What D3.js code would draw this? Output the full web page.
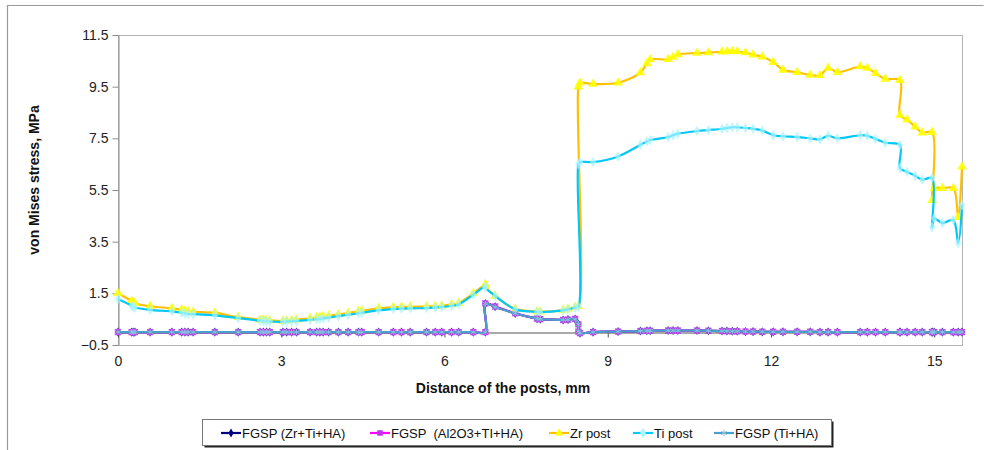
<!DOCTYPE html>
<html>
<head>
<meta charset="utf-8">
<script src="https://cdn.jsdelivr.net/npm/d3@7"></script>
<style>
  body { margin: 0; background: #fff; }
  text { font-family: "Liberation Sans", Arial, sans-serif; }
</style>
</head>
<body>
<script>
// Width and height
var w = 994;
var h = 450;

// Data: distance along the posts (mm), shared by every series
var distance = [
  0.00, 0.25, 0.28, 0.31, 0.59, 0.99, 1.17, 1.23, 1.29, 1.38,
  1.78, 2.21, 2.61, 2.67, 2.73, 2.79, 3.03, 3.10, 3.19, 3.28,
  3.53, 3.65, 3.71, 3.77, 3.87, 4.05, 4.23, 4.42, 4.48, 4.79,
  5.06, 5.21, 5.37, 5.67, 5.83, 5.95, 6.13, 6.26, 6.53, 6.75,
  6.75, 6.93, 7.30, 7.70, 7.76, 8.18, 8.27, 8.40, 8.46, 8.46,
  8.49, 8.73, 9.19, 9.60, 9.72, 9.78, 10.11, 10.20, 10.29, 10.64,
  10.85, 11.10, 11.19, 11.29, 11.38, 11.53, 11.67, 11.84, 12.04, 12.22,
  12.48, 12.72, 12.90, 13.05, 13.22, 13.64, 13.77, 13.92, 14.10, 14.37,
  14.37, 14.50, 14.65, 14.78, 14.96, 14.96, 15.00, 15.15, 15.35, 15.44, 15.51
];

// von Mises stress, MPa
var zrPost = [
  1.50, 1.20, 1.16, 1.12, 1.00, 0.92, 0.86, 0.82, 0.80, 0.78,
  0.74, 0.58, 0.48, 0.47, 0.46, 0.45, 0.43, 0.44, 0.46, 0.48,
  0.53, 0.56, 0.58, 0.60, 0.63, 0.68, 0.74, 0.80, 0.82, 0.92,
  0.96, 0.97, 0.98, 0.99, 1.00, 1.02, 1.07, 1.12, 1.50, 1.85,
  1.80, 1.40, 0.90, 0.80, 0.79, 0.85, 0.90, 0.97, 1.00, 9.50,
  9.65, 9.60, 9.65, 10.05, 10.40, 10.55, 10.56, 10.65, 10.75, 10.80,
  10.82, 10.85, 10.86, 10.87, 10.86, 10.82, 10.74, 10.66, 10.45, 10.15,
  10.06, 9.95, 9.94, 10.22, 10.06, 10.28, 10.22, 10.02, 9.80, 9.75,
  8.40, 8.22, 7.95, 7.72, 7.74, 5.10, 5.57, 5.57, 5.57, 4.45, 6.40
];

var tiPost = [
  1.28, 1.02, 0.98, 0.95, 0.86, 0.80, 0.75, 0.72, 0.70, 0.69,
  0.65, 0.54, 0.44, 0.43, 0.42, 0.41, 0.40, 0.41, 0.42, 0.43,
  0.47, 0.50, 0.51, 0.53, 0.56, 0.62, 0.67, 0.73, 0.75, 0.84,
  0.89, 0.91, 0.92, 0.93, 0.95, 0.97, 1.02, 1.07, 1.45, 1.78,
  1.72, 1.40, 0.88, 0.78, 0.77, 0.84, 0.88, 0.95, 0.98, 6.50,
  6.58, 6.58, 6.80, 7.25, 7.38, 7.43, 7.55, 7.62, 7.68, 7.78,
  7.82, 7.87, 7.90, 7.93, 7.93, 7.90, 7.87, 7.80, 7.62, 7.58,
  7.55, 7.50, 7.46, 7.60, 7.50, 7.62, 7.60, 7.48, 7.33, 7.24,
  6.35, 6.20, 6.05, 5.90, 5.96, 4.06, 4.40, 4.22, 4.34, 3.45, 4.92
];

var fgspZrTiHa = [
  0, 0, 0, 0, 0, 0, 0, 0, 0, 0,
  0, 0, 0, 0, 0, 0, 0, 0, 0, 0,
  0, 0, 0, 0, 0, 0, 0, 0, 0, 0,
  0, 0, 0, 0, 0, 0, 0, 0, 0, 0,
  1.10, 0.98, 0.72, 0.52, 0.50, 0.47, 0.48, 0.50, 0.30, 0.02,
  -0.04, 0.00, 0.02, 0.04, 0.05, 0.05, 0.06, 0.06, 0.06, 0.06,
  0.05, 0.04, 0.04, 0.03, 0.03, 0.02, 0.02, 0.01, 0.01, 0.01,
  0.01, 0.01, 0, 0, 0, 0, 0, 0, 0, 0,
  0, 0, 0, 0, 0, 0, 0, 0, 0, 0, 0
];

var fgspAlTiHa = [
  0, 0, 0, 0, 0, 0, 0, 0, 0, 0,
  0, 0, 0, 0, 0, 0, 0, 0, 0, 0,
  0, 0, 0, 0, 0, 0, 0, 0, 0, 0,
  0, 0, 0, 0, 0, 0, 0, 0, 0, 0,
  1.11, 0.99, 0.73, 0.52, 0.50, 0.47, 0.48, 0.51, 0.30, 0.02,
  -0.04, 0.00, 0.02, 0.04, 0.05, 0.05, 0.06, 0.06, 0.06, 0.06,
  0.05, 0.04, 0.04, 0.03, 0.03, 0.02, 0.02, 0.01, 0.01, 0.01,
  0.01, 0.01, 0, 0, 0, 0, 0, 0, 0, 0,
  0, 0, 0, 0, 0, 0, 0, 0, 0, 0, 0
];

var fgspTiHa = [
  0, 0, 0, 0, 0, 0, 0, 0, 0, 0,
  0, 0, 0, 0, 0, 0, 0, 0, 0, 0,
  0, 0, 0, 0, 0, 0, 0, 0, 0, 0,
  0, 0, 0, 0, 0, 0, 0, 0, 0, 0,
  1.10, 0.97, 0.72, 0.52, 0.50, 0.47, 0.48, 0.50, 0.30, 0.02,
  -0.04, 0.00, 0.02, 0.04, 0.05, 0.05, 0.06, 0.06, 0.06, 0.06,
  0.05, 0.04, 0.04, 0.03, 0.03, 0.02, 0.02, 0.01, 0.01, 0.01,
  0.01, 0.01, 0, 0, 0, 0, 0, 0, 0, 0,
  0, 0, 0, 0, 0, 0, 0, 0, 0, 0, 0
];

// Tick labels
var xTicks = [0, 3, 6, 9, 12, 15];
var yTicks = [-0.5, 1.5, 3.5, 5.5, 7.5, 9.5, 11.5];

// Series in drawing order (Excel draws the first series at the bottom)
var series = [
  { name: "FGSP (Zr+Ti+HA)",       values: fgspZrTiHa, line: "#000080", mark: "#000080", sym: d3.symbolDiamond,  size: 24 },
  { name: "FGSP  (Al2O3+TI+HA)",   values: fgspAlTiHa, line: "#ff00ff", mark: "#c030f0", sym: d3.symbolSquare,   size: 40 },
  { name: "Zr post",               values: zrPost,     line: "#ffc000", mark: "#ffff00", sym: d3.symbolTriangle, size: 40 },
  { name: "Ti post",               values: tiPost,     line: "#00c8f8", mark: "#a8f4ff", sym: d3.symbolDiamond,  size: 34 },
  { name: "FGSP (Ti+HA)",          values: fgspTiHa,   line: "#4a9fcb", mark: "#8fc0e0", sym: d3.symbolAsterisk, size: 30 }
];

// Plot area
var pLeft = 118, pRight = 962, pTop = 35, pBottom = 345;

var x = d3.scaleLinear().domain([0, 15.51]).range([pLeft, pRight]);
var y = d3.scaleLinear().domain([-0.5, 11.5]).range([pBottom, pTop]);

// Create SVG element
var svg = d3.select("body")
            .append("svg")
            .attr("width", w)
            .attr("height", h);

// Outer chart frame (only top and left edges show in the picture)
svg.append("path")
   .attr("d", "M7.5,450 V5.5 H983.5")
   .attr("fill", "none")
   .attr("stroke", "#9a9a9a")
   .attr("stroke-width", 1.2);

// Plot area border
svg.append("rect")
   .attr("x", pLeft + 0.5)
   .attr("y", pTop + 0.5)
   .attr("width", pRight - pLeft)
   .attr("height", pBottom - pTop)
   .attr("fill", "none")
   .attr("stroke", "#b4b4b4")
   .attr("stroke-width", 1);

// Y axis
var yAxis = d3.axisLeft(y).tickValues(yTicks).tickSize(6).tickSizeOuter(0)
              .tickFormat(d3.format(".1f"));
var gy = svg.append("g")
            .attr("transform", "translate(" + (pLeft + 0.5) + ",0)")
            .call(yAxis);
gy.select(".domain").attr("stroke", "#8c8c8c");
gy.selectAll(".tick line").attr("stroke", "#8c8c8c");
gy.selectAll(".tick text")
  .attr("x", -10)
  .attr("font-size", "14px")
  .attr("fill", "#222")
  .attr("font-family", "'Liberation Sans', Arial, sans-serif");

// X axis crosses at zero, labels sit below the plot area
var zeroY = Math.round(y(0)) + 0.5;
var xAxis = d3.axisBottom(x).tickValues(xTicks).tickSize(5).tickSizeOuter(0)
              .tickFormat(d3.format("d"));
var gx = svg.append("g")
            .attr("transform", "translate(0," + zeroY + ")")
            .call(xAxis);
gx.select(".domain").attr("stroke", "#555");
gx.selectAll(".tick line").attr("stroke", "#555");
gx.selectAll(".tick text")
  .attr("y", 356 - zeroY)
  .attr("dy", "0.71em")
  .attr("font-size", "14px")
  .attr("fill", "#222")
  .attr("font-family", "'Liberation Sans', Arial, sans-serif");

// Axis titles
svg.append("text")
   .text("von Mises stress, MPa")
   .attr("transform", "translate(39,180) rotate(-90)")
   .attr("text-anchor", "middle")
   .attr("font-size", "14px")
   .attr("font-weight", "bold")
   .attr("fill", "#111");

svg.append("text")
   .text("Distance of the posts, mm")
   .attr("x", 503)
   .attr("y", 393)
   .attr("text-anchor", "middle")
   .attr("font-size", "14px")
   .attr("font-weight", "bold")
   .attr("fill", "#111");

// Lines and markers
var line = d3.line()
             .x(function(d) { return x(d[0]); })
             .y(function(d) { return y(d[1]); })
             .curve(d3.curveCatmullRom.alpha(0.5));

series.forEach(function(s) {
  var pts = distance.map(function(d, i) { return [d, s.values[i]]; });
  var g = svg.append("g");
  g.append("path")
   .datum(pts)
   .attr("d", line)
   .attr("fill", "none")
   .attr("stroke", s.line)
   .attr("stroke-width", 2.2);
  g.selectAll("path.mk")
   .data(pts)
   .enter()
   .append("path")
   .attr("class", "mk")
   .attr("d", d3.symbol().type(s.sym).size(s.size))
   .attr("transform", function(d) { return "translate(" + x(d[0]) + "," + y(d[1]) + ")"; })
   .attr("fill", s.sym === d3.symbolAsterisk ? "none" : s.mark)
   .attr("stroke", s.sym === d3.symbolAsterisk ? s.mark : "none")
   .attr("stroke-width", 1)
   .attr("opacity", s.name === "Ti post" ? 0.7 : 0.9);
});

// Legend
var legX = 202, legY = 419, legW = 629, legH = 26;
svg.append("rect")
   .attr("x", legX + 2.5).attr("y", legY + 2.5)
   .attr("width", legW).attr("height", legH)
   .attr("fill", "#222");
svg.append("rect")
   .attr("x", legX + 0.5).attr("y", legY + 0.5)
   .attr("width", legW).attr("height", legH)
   .attr("fill", "#fff")
   .attr("stroke", "#777");

var legItemX = [221, 370, 549, 633, 714];
var legend = svg.selectAll("g.leg")
                .data(series)
                .enter()
                .append("g")
                .attr("class", "leg")
                .attr("transform", function(d, i) { return "translate(" + legItemX[i] + "," + (legY + 14) + ")"; });

legend.append("line")
      .attr("x1", 0).attr("x2", 20)
      .attr("stroke", function(d) { return d.line; })
      .attr("stroke-width", 2.2);
legend.append("path")
      .attr("d", function(d) { return d3.symbol().type(d.sym).size(Math.min(d.size, 30))(); })
      .attr("transform", "translate(10,0)")
      .attr("fill", function(d) { return d.sym === d3.symbolAsterisk ? "none" : d.mark; })
      .attr("stroke", function(d) { return d.sym === d3.symbolAsterisk ? d.mark : "none"; });
legend.append("text")
      .text(function(d) { return d.name; })
      .attr("x", 21)
      .attr("dy", "0.36em")
      .attr("font-size", "13px")
      .attr("fill", "#111")
      .style("white-space", "pre");
</script>
</body>
</html>
